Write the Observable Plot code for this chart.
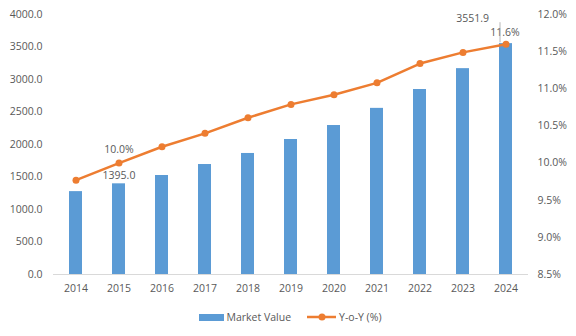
<!DOCTYPE html>
<html>
<head>
<meta charset="utf-8">
<script src="https://cdn.jsdelivr.net/npm/d3@7"></script>
<script src="https://cdn.jsdelivr.net/npm/@observablehq/plot@0.6"></script>
<style>
  html, body { margin: 0; padding: 0; background: #fff; }
  body { width: 576px; height: 336px; overflow: hidden; font-family: "Open Sans", sans-serif; }
  #legend { display: flex; justify-content: center; align-items: center; gap: 16px; height: 30px; font-size: 10.5px; color: #595959; margin-left: 4px; }
  .item { display: flex; align-items: center; gap: 3px; }
  .sw { width: 25px; height: 7px; background: #5B9BD5; }
</style>
</head>
<body>
<div id="chart"></div>
<div id="legend">
  <div class="item"><span class="sw"></span><span>Market Value</span></div>
  <div class="item"><svg width="29" height="10"><line x1="0" y1="5" x2="29" y2="5" stroke="#ED7D31" stroke-width="2.5"/><circle cx="15" cy="5" r="3.5" fill="#ED7D31"/></svg><span>Y-o-Y (%)</span></div>
</div>
<script>
const years = ["2014","2015","2016","2017","2018","2019","2020","2021","2022","2023","2024"];
const marketValue = [1275, 1395.0, 1523, 1692, 1862, 2077, 2292, 2556, 2846, 3167, 3551.9];
const yoy = [9.77, 10.0, 10.22, 10.40, 10.61, 10.79, 10.92, 11.08, 11.34, 11.49, 11.6];
const leftTicks = [0, 500, 1000, 1500, 2000, 2500, 3000, 3500, 4000];
const rightTicks = [8.5, 9.0, 9.5, 10.0, 10.5, 11.0, 11.5, 12.0];
const leftDomain = [0, 4000];
const rightDomain = [8.5, 12.0];

const toLeft = p => (p - rightDomain[0]) / (rightDomain[1] - rightDomain[0]) * (leftDomain[1] - leftDomain[0]) + leftDomain[0];
const data = years.map((y, i) => ({year: y, value: marketValue[i], yoy: yoy[i], yl: toLeft(yoy[i])}));
const d2015 = data.filter(d => d.year === "2015");
const d2024 = data.filter(d => d.year === "2024");

const txt = "#595959";
const chart = Plot.plot({
  width: 576,
  height: 302,
  marginLeft: 53,
  marginRight: 48,
  marginTop: 14,
  marginBottom: 28,
  style: {fontFamily: "Open Sans, sans-serif", fontSize: "10.5px", color: txt, background: "#fff"},
  x: {type: "band", domain: years, paddingInner: 0.7, paddingOuter: 0.35},
  y: {domain: leftDomain},
  marks: [
    Plot.barY(data, {x: "year", y: "value", fill: "#5B9BD5"}),
    Plot.ruleY([0], {stroke: "#d9d9d9", strokeWidth: 1}),
    Plot.line(data, {x: "year", y: "yl", stroke: "#ED7D31", strokeWidth: 2.5}),
    Plot.dot(data, {x: "year", y: "yl", r: 3.5, fill: "#ED7D31", stroke: "none"}),
    Plot.axisY(leftTicks, {anchor: "left", tickSize: 0, tickPadding: 11, tickFormat: d3.format(".1f"), label: null, fill: txt}),
    Plot.axisY(rightTicks.map(toLeft), {anchor: "right", tickSize: 0, tickPadding: 9, tickFormat: v => (rightDomain[0] + (v - leftDomain[0]) / (leftDomain[1] - leftDomain[0]) * (rightDomain[1] - rightDomain[0])).toFixed(1) + "%", label: null, fill: txt}),
    Plot.axisX({tickSize: 0, tickPadding: 10, label: null, fill: txt}),
    Plot.text(d2015, {x: "year", y: "value", text: d => d.value.toFixed(1), dy: -8, fill: txt}),
    Plot.text(d2015, {x: "year", y: "yl", text: d => d.yoy.toFixed(1) + "%", dy: -13, fill: txt}),
    Plot.text(d2024, {x: "year", y: "yl", text: d => d.yoy.toFixed(1) + "%", dy: -12, dx: -1, fill: txt}),
    Plot.link(d2024, {x1: "year", x2: "year", y1: d => d.value + 20, y2: d => d.value + 330, dx: -6, stroke: "#a6a6a6", strokeWidth: 0.8}),
    Plot.text(d2024, {x: "year", y: "value", text: d => d.value.toFixed(1), dx: -17, dy: -25, textAnchor: "end", fill: txt})
  ]
});
document.getElementById("chart").append(chart);
</script>
</body>
</html>
